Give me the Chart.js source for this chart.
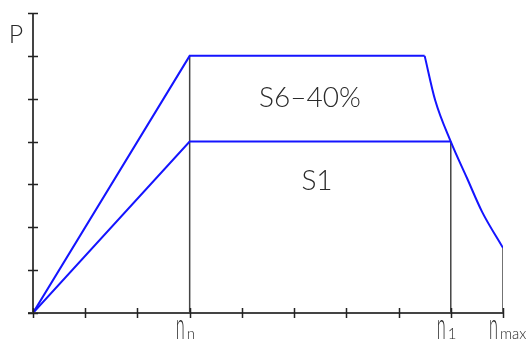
<!DOCTYPE html>
<html>
<head>
<meta charset="utf-8">
<script src="https://cdn.jsdelivr.net/npm/chart.js@4"></script>
<style>
  html, body { margin: 0; padding: 0; background: #fff; }
  #wrap { width: 532px; height: 342px; }
</style>
</head>
<body>
<div id="wrap"><canvas id="chart"></canvas></div>
<script>
// S6-40% envelope: rising ramp and flat top
const s6X = [0, 3, 7.5];
const s6Y = [0, 6, 6];
// S6-40% falling branch towards n_max
const fallX = [7.5, 7.7, 8, 8.31, 8.6, 9];
const fallY = [6, 4.97, 4, 3.15, 2.36, 1.52];
// S1 envelope
const s1X = [0, 3, 8];
const s1Y = [0, 4, 4];
// vertical drop lines at n_n, n_1, n_max
const dropX = [3, 8, 9];
const dropY = [6, 4, 1.52];
// axis ticks
const xTicks = [0, 1, 2, 3, 4, 5, 6, 7, 8, 9];
const yTicks = [0, 1, 2, 3, 4, 5, 6, 7];
// x tick labels: [value, main, subscript]
const xLabels = [[3, "n", "n"], [8, "n", "1"], [9, "n", "max"]];

const FONT = "Lato";
const INK = "#2a2a2a";
const BLUE = "#1414ff";

const toPts = (xs, ys) => xs.map((x, i) => ({ x, y: ys[i] }));

const drops = dropX.map((x, i) => ({
  data: [{ x, y: 0 }, { x, y: dropY[i] }],
  borderColor: "#444",
  borderWidth: 1.5,
  pointRadius: 0,
  order: 2
}));

const axesPlugin = {
  id: "axes",
  afterDatasetsDraw(chart) {
    const { ctx, scales: { x, y } } = chart;
    const x0 = x.getPixelForValue(0), y0 = y.getPixelForValue(0);
    ctx.save();
    ctx.strokeStyle = "#444";
    ctx.lineWidth = 2;
    ctx.beginPath();
    ctx.moveTo(x0 - 5, y0);
    ctx.lineTo(x.getPixelForValue(9), y0);
    ctx.moveTo(x0, y.getPixelForValue(7));
    ctx.lineTo(x0, y0);
    ctx.stroke();

    ctx.lineWidth = 1.5;
    ctx.strokeStyle = "#222";
    ctx.beginPath();
    xTicks.forEach(v => {
      const px = Math.round(x.getPixelForValue(v)) + 0.5;
      ctx.moveTo(px, y0 - 5);
      ctx.lineTo(px, y0 + 5);
    });
    yTicks.forEach(v => {
      const py = Math.round(y.getPixelForValue(v)) + 0.5;
      ctx.moveTo(x0 - 5, py);
      ctx.lineTo(x0 + 5, py);
    });
    ctx.stroke();

    ctx.fillStyle = INK;
    ctx.textBaseline = "alphabetic";
    ctx.textAlign = "left";
    xLabels.forEach(([v, main, sub]) => {
      const px = x.getPixelForValue(v);
      // tall narrow "n" like a drafting font
      ctx.save();
      ctx.translate(px - 14, 339);
      ctx.scale(0.58, 1.3);
      ctx.font = "300 28px " + FONT;
      ctx.fillText(main, 0, 0);
      ctx.restore();
      ctx.font = "300 15px " + FONT;
      ctx.fillText(sub, px - 3, 339);
    });

    ctx.font = "300 25px " + FONT;
    ctx.textAlign = "center";
    ctx.fillText("P", 16, 43);
    ctx.font = "300 28px " + FONT;
    ctx.fillText("S6\u201340%", 310, y.getPixelForValue(4.8));
    ctx.fillText("S1", 317, y.getPixelForValue(2.86));
    ctx.restore();
  }
};

new Chart(document.getElementById("chart"), {
  type: "line",
  data: {
    datasets: [
      { label: "S6-40%", data: toPts(s6X, s6Y), borderColor: BLUE, borderWidth: 2, pointRadius: 0, order: 1 },
      { label: "S6-40% fall", data: toPts(fallX, fallY), borderColor: BLUE, borderWidth: 2, pointRadius: 0,
        cubicInterpolationMode: "monotone", order: 1 },
      { label: "S1", data: toPts(s1X, s1Y), borderColor: BLUE, borderWidth: 2, pointRadius: 0, order: 1 },
      ...drops
    ]
  },
  options: {
    responsive: true,
    maintainAspectRatio: false,
    animation: false,
    layout: { padding: { left: 33, right: 29, top: 13, bottom: 29 } },
    plugins: { legend: { display: false }, tooltip: { enabled: false } },
    elements: { line: { tension: 0 } },
    scales: {
      x: { type: "linear", min: 0, max: 9, display: false },
      y: { type: "linear", min: 0, max: 7, display: false }
    }
  },
  plugins: [axesPlugin]
});
</script>
</body>
</html>
